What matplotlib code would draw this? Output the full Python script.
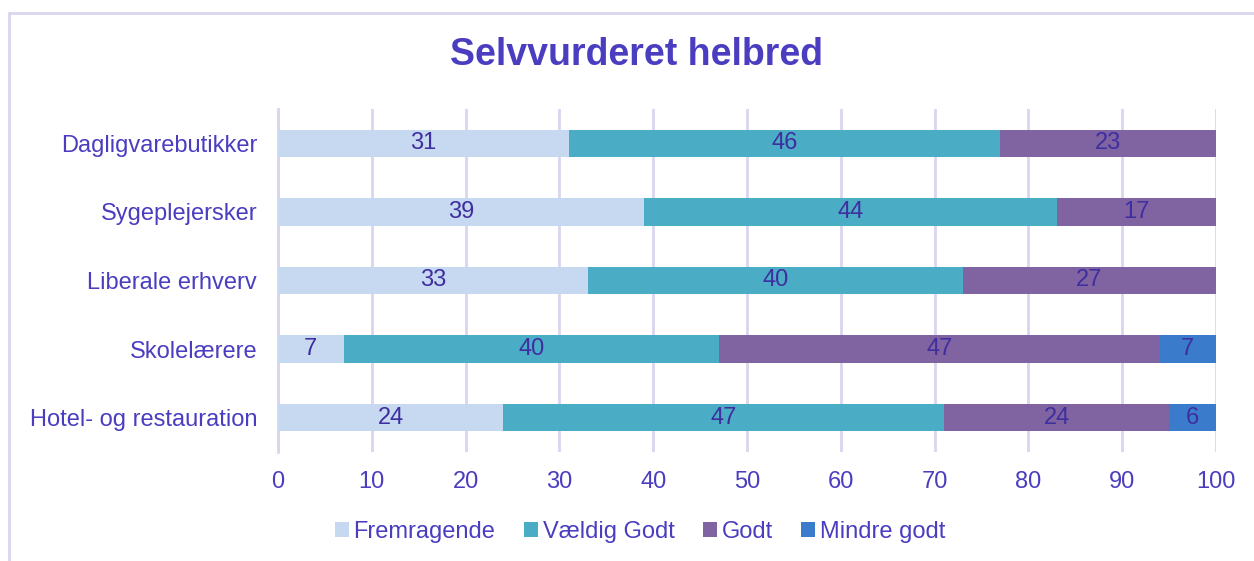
import numpy as np
import matplotlib.pyplot as plt
from matplotlib.patches import Rectangle

plt.rcParams['font.family'] = ['Liberation Sans', 'DejaVu Sans']

categories = ['Dagligvarebutikker', 'Sygeplejersker', 'Liberale erhverv',
              'Skolelærere', 'Hotel- og restauration']
series = ['Fremragende', 'Vældig Godt', 'Godt', 'Mindre godt']
fremragende = [31, 39, 33, 7, 24]
vaeldig_godt = [46, 44, 40, 40, 47]
godt = [23, 17, 27, 47, 24]
mindre_godt = [0, 0, 0, 7, 6]

colors = ['#C6D9F0', '#4BACC6', '#8064A2', '#3A7BCB']
txt = '#4A3DC0'
lab = '#3E2EA0'
grid = '#D9D5F0'

data = [fremragende, vaeldig_godt, godt, mindre_godt]

fig = plt.figure(figsize=(12.54, 5.61), dpi=100)
fig.patches.append(Rectangle((9/1254, -0.1), 1.1, 1 - 13/561 + 0.1, transform=fig.transFigure,
                             fill=False, edgecolor=grid, lw=2))
ax = fig.add_axes([278/1254, 1-452/561, (1216-278)/1254, (452-109)/561])

y = np.arange(len(categories))
left = np.zeros(len(categories))
for name, vals, c in zip(series, data, colors):
    vals = np.array(vals, dtype=float)
    bars = ax.barh(y, vals, left=left, height=0.4, color=c, label=name, zorder=3)
    labels = [str(int(v)) if v > 0 else '' for v in vals]
    ax.bar_label(bars, labels=labels, label_type='center', color=lab, fontsize=17)
    left += vals

ax.set_xlim(0, 100)
ax.set_ylim(len(categories) - 0.5, -0.5)
ax.set_xticks(np.arange(0, 101, 10))
ax.set_yticks(y)
ax.set_yticklabels(categories)
ax.tick_params(length=0, labelcolor=txt, labelsize=17)
ax.tick_params(axis='x', pad=14)
ax.tick_params(axis='y', pad=15)
ax.grid(axis='x', color=grid, lw=2, zorder=0)
for s in ['top', 'right', 'bottom']:
    ax.spines[s].set_visible(False)
ax.spines['left'].set_color(grid)
ax.spines['left'].set_linewidth(2)
ax.spines['left'].set_zorder(0)

fig.text(637/1254, 1-55/561, 'Selvvurderet helbred', ha='center', va='center',
         fontsize=27, fontweight='bold', color=txt)

leg = fig.legend(loc='center', bbox_to_anchor=(640/1254, 1-532/561), ncol=4, frameon=False,
                 fontsize=17, handlelength=0.6, handleheight=0.6, handletextpad=0.2,
                 columnspacing=1.2)
for t in leg.get_texts():
    t.set_color(txt)

fig.savefig('out.png', dpi=100)
